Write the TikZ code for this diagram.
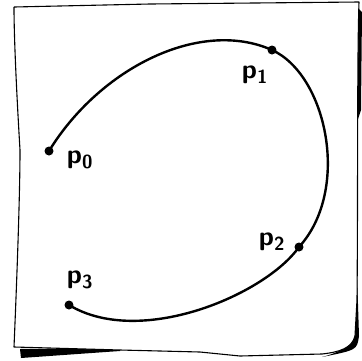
\documentclass[tikz,border=0pt]{standalone}
\usepackage{xcolor}
\definecolor{cInk}{HTML}{000000}
\definecolor{cPaper}{HTML}{FFFFFF}
\usepackage{tikz}
\usetikzlibrary{positioning,calc}
\tikzset{
  node-dot/.style={circle,fill=cInk,inner sep=0pt,minimum size=9pt},
  node-label/.style={inner sep=0pt,font=\fontsize{27}{27}\selectfont\sffamily\bfseries},
  paper-edge/.style={draw=cInk,line width=1.1pt,fill=cPaper,line join=round},
  shadow/.style={fill=cInk},
  curve/.style={draw=cInk,line width=2.4pt,line cap=round},
}
\begin{document}
\begin{tikzpicture}[x=1pt,y=-1pt]
  \useasboundingbox (0,0) rectangle (362,360);
  % shadow behind the sheet
  \fill[shadow] (20,349) -- (21,358) -- (120,351) -- (120,348) -- cycle;
  \fill[shadow] (356,6) -- (362,12) -- (361,110) -- (357,122) -- cycle;
  \fill[shadow] (356,240) -- (359,336) .. controls (357,350) .. (322,357)
    .. controls (341,352) and (351,346) .. (353,332) -- cycle;
  % the sheet
  \draw[paper-edge] (14,7) -- (150,4) -- (359,2)
    .. controls (357,60) and (358,200) .. (357,300)
    -- (355,336) .. controls (352,348) and (340,352) .. (322,354)
    -- (240,356) -- (200,352) -- (120,350) -- (14,347)
    .. controls (16,300) and (20,200) .. (20,150)
    .. controls (17,100) and (14,40) .. (14,7);
  % control points
  \node[node-dot] (p0) at (49,151)  {};
  \node[node-dot] (p1) at (272,50)  {};
  \node[node-dot] (p2) at (299,247) {};
  \node[node-dot] (p3) at (69,305)  {};
  \node[node-label] (l0) at (80,160)  {p\textsubscript{0}};
  \node[node-label] (l1) at (255,75)  {p\textsubscript{1}};
  \node[node-label] (l2) at (272,242) {p\textsubscript{2}};
  \node[node-label] (l3) at (80,280)  {p\textsubscript{3}};
  % the curve through them
  \draw[curve] (p0.center) .. controls (100,68) and (200,18) .. (p1.center)
    .. controls (327,75) and (351,190) .. (p2.center)
    .. controls (265,295) and (140,348) .. (p3.center);
\end{tikzpicture}
\end{document}
